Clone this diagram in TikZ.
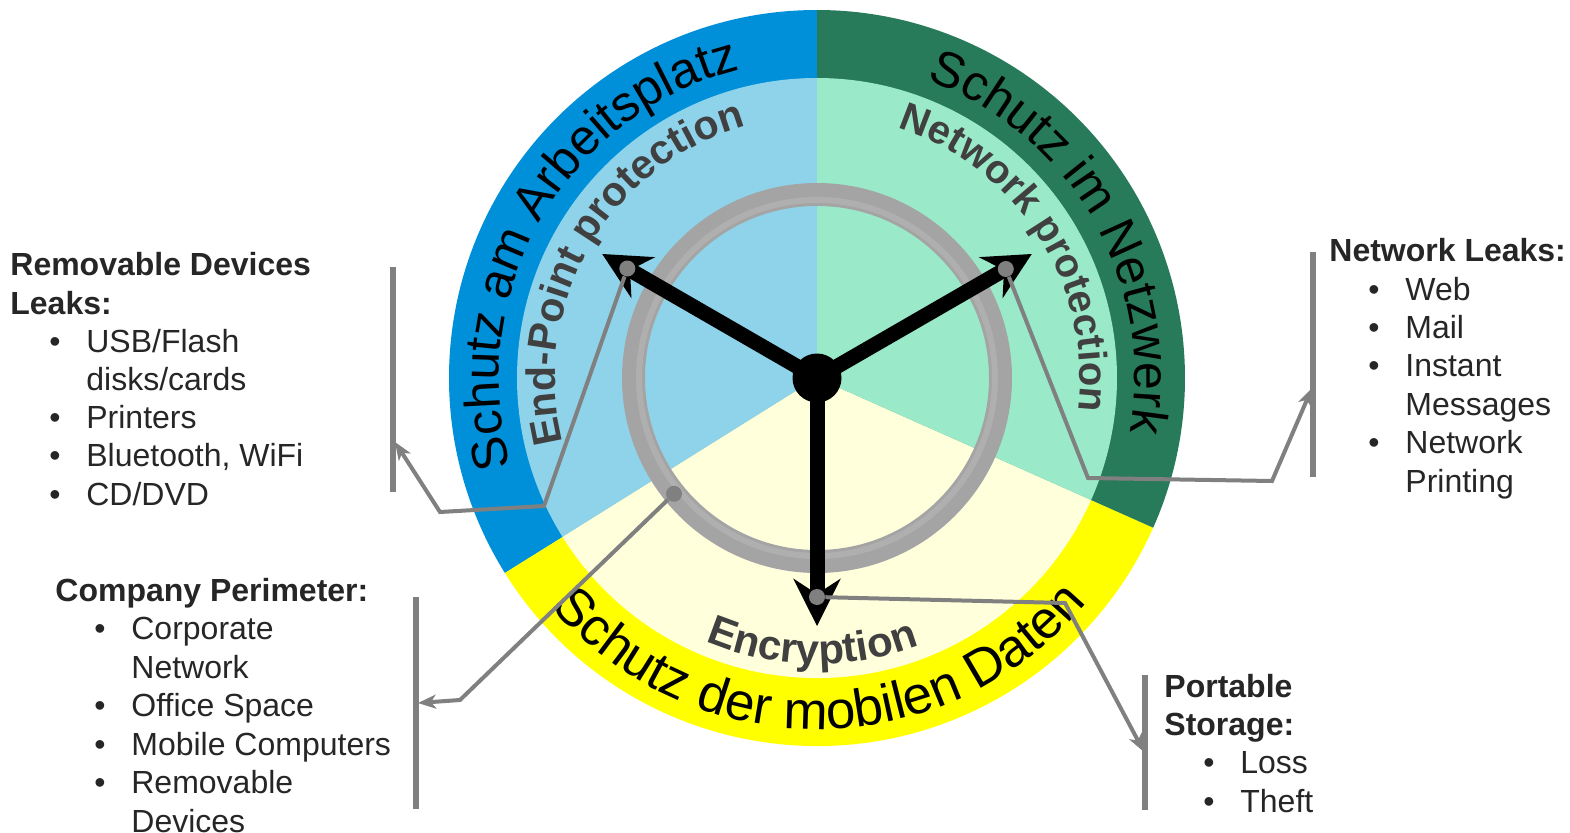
\documentclass[tikz,border=0pt]{standalone}
\usepackage{fontspec}
\setmainfont{Liberation Sans}
\usetikzlibrary{arrows.meta,decorations.text}

\definecolor{ringblue}{RGB}{0,144,218}
\definecolor{paleblue}{RGB}{143,211,234}
\definecolor{ringgreen}{RGB}{39,122,90}
\definecolor{palegreen}{RGB}{154,234,202}
\definecolor{ringyellow}{RGB}{255,255,0}
\definecolor{paleyellow}{RGB}{255,255,220}
\definecolor{steel}{RGB}{164,164,164}
\definecolor{leadgray}{RGB}{128,128,128}
\definecolor{inkgray}{RGB}{38,38,38}
\definecolor{labelgray}{RGB}{64,64,64}

\newcommand{\itm}[1]{\hspace*{19.5pt}\makebox[18.5pt][l]{\textbullet}#1}
\newcommand{\cnt}[1]{\hspace*{38pt}#1}

\tikzset{
  hand/.style={line width=7.5pt, -{Stealth[length=23.5pt,width=23.5pt,inset=7.5pt]}},
  lead/.style={draw=leadgray, line width=2pt, line join=miter, -{Stealth[length=9pt,width=7pt,inset=2.5pt]}},
  bracket/.style={draw=leadgray, line width=2.6pt},
  pin/.style={circle, fill=leadgray, minimum size=8pt, inner sep=0pt},
  leaks/.style={text=inkgray, align=left, inner sep=0pt, anchor=base west},
}

\begin{document}
\begin{tikzpicture}[x=0.5pt, y=0.5pt]
\useasboundingbox (0,0) rectangle (1570,832);
\coordinate (O) at (817,454); % wheel centre

% outer ring
\fill[ringblue] (O) -- ++(90:368) arc[start angle=90, end angle=212, radius=368] -- cycle; % Arbeitsplatz
\fill[ringyellow] (O) -- ++(212:368) arc[start angle=212, end angle=336, radius=368] -- cycle; % mobile Daten
\fill[ringgreen] (O) -- ++(336:368) arc[start angle=336, end angle=450, radius=368] -- cycle; % Netzwerk
% inner sectors
\fill[paleblue] (O) -- ++(90:300) arc[start angle=90, end angle=212, radius=300] -- cycle;
\fill[paleyellow] (O) -- ++(212:300) arc[start angle=212, end angle=336, radius=300] -- cycle;
\fill[palegreen] (O) -- ++(336:300) arc[start angle=336, end angle=450, radius=300] -- cycle;

% steel ring
\draw[steel, line width=11.5pt] (O) circle[radius=183.5];
\draw[white, opacity=0.12, line width=3pt] (O) circle[radius=178];

% ring texts
\path[decorate, decoration={text along path, text align=center,
  text={|\fontsize{25pt}{25pt}\selectfont|Schutz am Arbeitsplatz}}]
  ([shift={(O)}]230:318) arc[start angle=230, end angle=70, radius=318];
\path[decorate, decoration={text along path, text align=center,
  text={|\fontsize{25pt}{25pt}\selectfont|Schutz im Netzwerk}}]
  ([shift={(O)}]110:318) arc[start angle=110, end angle=-50, radius=318];
\path[decorate, decoration={text along path, text align=center,
  text={|\fontsize{26.5pt}{26.5pt}\selectfont|Schutz der mobilen Daten}}]
  ([shift={(O)}]190.5:351) arc[start angle=190.5, end angle=350.5, radius=351];
% inner texts
\path[decorate, decoration={text along path, text align=center, text color=labelgray,
  text={|\bfseries\fontsize{20.5pt}{20.5pt}\selectfont|End-Point protection}}]
  ([shift={(O)}]230:262) arc[start angle=230, end angle=70, radius=262];
\path[decorate, decoration={text along path, text align=center, text color=labelgray,
  text={|\bfseries\fontsize{20pt}{20pt}\selectfont|Network protection}}]
  ([shift={(O)}]112.5:263) arc[start angle=112.5, end angle=-47.5, radius=263];
\path[decorate, decoration={text along path, text align=center, text color=labelgray,
  text={|\bfseries\fontsize{21pt}{21pt}\selectfont|Encryption}}]
  ([shift={(O)}]219:286) arc[start angle=219, end angle=319, radius=286];

% hands
\coordinate (epTip) at ([shift={(O)}]150:248);
\coordinate (nwTip) at ([shift={(O)}]30:248);
\coordinate (enTip) at ([shift={(O)}]270:248);
\draw[hand] (O) -- (epTip);
\draw[hand] (O) -- (nwTip);
\draw[hand] (O) -- (enTip);
\node[circle, fill=black, minimum size=24.5pt, inner sep=0pt] (hub) at (O) {};

% pins
\node[pin] (epDot) at ([shift={(O)}]150:219) {};
\node[pin] (nwDot) at ([shift={(O)}]30:218) {};
\node[pin] (enDot) at ([shift={(O)}]270:219) {};
\node[pin] (ringDot) at ([shift={(O)}]219:184) {};

% brackets
\draw[bracket] (393,565) -- (393,340);
\draw[bracket] (1313,580) -- (1313,355);
\draw[bracket] (416,235) -- (416,23);
\draw[bracket] (1145,157) -- (1145,22);
\coordinate (remTip) at (395,390);
\coordinate (netTip) at (1312,444);
\coordinate (comTip) at (418,129);
\coordinate (porTip) at (1144,80);

% leaders
\draw[lead] (epDot) -- (544,326) -- (440,320) -- (remTip);
\draw[lead] (nwDot) -- (1088,354) -- (1272,351) -- (netTip);
\draw[lead] (ringDot) -- (460,132) -- (comTip);
\draw[lead] (enDot) -- (1065,229) -- (porTip);

% lists (anchored at the last baseline)
\node[leaks, font=\fontsize{16pt}{19.1pt}\selectfont] (remList) at (10,327)
  {\textbf{Removable Devices}\\\textbf{Leaks:}\\\itm{USB/Flash}\\\cnt{disks/cards}\\\itm{Printers}\\\itm{Bluetooth, WiFi}\\\itm{CD/DVD}};
\node[leaks, font=\fontsize{16pt}{19.2pt}\selectfont] (netList) at (1329,340)
  {\textbf{Network Leaks:}\\\itm{Web}\\\itm{Mail}\\\itm{Instant}\\\cnt{Messages}\\\itm{Network}\\\cnt{Printing}};
\node[leaks, font=\fontsize{16pt}{19.25pt}\selectfont] (comList) at (55,0)
  {\textbf{Company Perimeter:}\\\itm{Corporate}\\\cnt{Network}\\\itm{Office Space}\\\itm{Mobile Computers}\\\itm{Removable}\\\cnt{Devices}};
\node[leaks, font=\fontsize{16pt}{19.15pt}\selectfont] (porList) at (1164,20)
  {\textbf{Portable}\\\textbf{Storage:}\\\itm{Loss}\\\itm{Theft}};
\end{tikzpicture}
\end{document}
